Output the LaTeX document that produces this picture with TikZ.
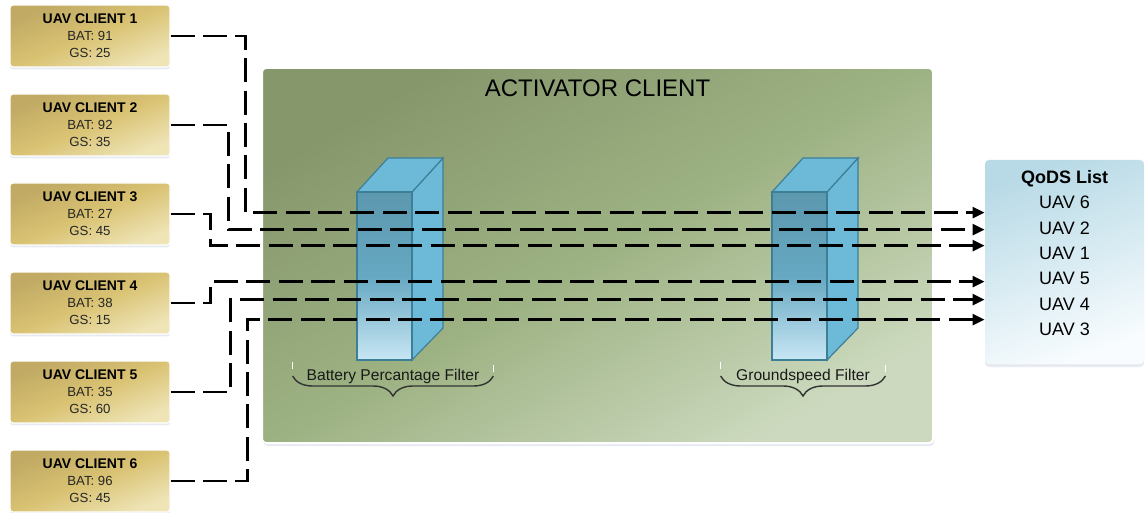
\documentclass[tikz,border=0pt]{standalone}
\usepackage{fontspec}
\setmainfont{Liberation Sans}
\usetikzlibrary{positioning, arrows.meta, shadows, decorations.pathreplacing}

\definecolor{golddark}{RGB}{192,170,100}
\definecolor{goldmid}{RGB}{217,194,114}
\definecolor{goldlight}{RGB}{238,228,182}
\definecolor{actdark}{RGB}{134,151,108}
\definecolor{actmid}{RGB}{157,178,131}
\definecolor{actlight}{RGB}{204,217,190}
\definecolor{filterdark}{RGB}{92,152,174}
\definecolor{filtermid}{RGB}{102,168,194}
\definecolor{filterlight}{RGB}{200,230,244}
\definecolor{filterside}{RGB}{108,186,215}
\definecolor{filteredge}{RGB}{62,127,152}
\definecolor{qodstop}{RGB}{184,218,230}
\definecolor{qodsbottom}{RGB}{248,252,254}
\definecolor{shadowblue}{RGB}{196,204,220}

\begin{document}
\begin{tikzpicture}[
        x=0.5pt, y=-0.5pt,
        client/.style={
            rectangle,
            rounded corners=1.5pt,
            draw=white,
            line width=0.6pt,
            top color=golddark,
            bottom color=goldlight,
            middle color=goldmid,
            shading angle=22,
            minimum width=80pt,
            minimum height=31pt,
            align=center,
            text=black!85,
            font=\fontsize{6.6}{8.5}\selectfont,
            drop shadow={shadow xshift=0pt, shadow yshift=-1.2pt, opacity=0.4, fill=shadowblue}
        },
        activator/.style={
            rectangle,
            rounded corners=2pt,
            draw=white,
            line width=1pt,
            top color=actdark,
            bottom color=actlight,
            middle color=actmid,
            shading angle=30,
            minimum width=335.5pt,
            minimum height=187.5pt,
            drop shadow={shadow xshift=0.6pt, shadow yshift=-1.5pt, opacity=0.4, fill=shadowblue}
        },
        qods/.style={
            rectangle,
            rounded corners=2pt,
            top color=qodstop,
            bottom color=qodsbottom,
            shading angle=20,
            minimum width=79.5pt,
            minimum height=102pt,
            drop shadow={shadow xshift=0pt, shadow yshift=-1.5pt, opacity=0.4, fill=shadowblue}
        },
        filterlabel/.style={
            inner sep=0pt,
            text=black!90,
            font=\fontsize{7.8}{9}\selectfont
        },
        fbrace/.style={
            decorate,
            decoration={brace, mirror, amplitude=10pt},
            draw=black!80,
            line width=0.7pt
        },
        flow/.style={
            -{Triangle[length=6pt, width=5.5pt]},
            line width=1.3pt,
            dash pattern=on 12pt off 4.2pt
        }
    ]
    \useasboundingbox (0,0) rectangle (1145,513);

    % Clients (top to bottom)
    \node[client] (c1) at (90,36) {\textcolor{black}{\bfseries\fontsize{7}{8.5}\selectfont UAV CLIENT 1}\\BAT: 91\\GS: 25};
    \node[client, below=12.9pt of c1] (c2) {\textcolor{black}{\bfseries\fontsize{7}{8.5}\selectfont UAV CLIENT 2}\\BAT: 92\\GS: 35};
    \node[client, below=12.9pt of c2] (c3) {\textcolor{black}{\bfseries\fontsize{7}{8.5}\selectfont UAV CLIENT 3}\\BAT: 27\\GS: 45};
    \node[client, below=12.9pt of c3] (c4) {\textcolor{black}{\bfseries\fontsize{7}{8.5}\selectfont UAV CLIENT 4}\\BAT: 38\\GS: 15};
    \node[client, below=12.9pt of c4] (c5) {\textcolor{black}{\bfseries\fontsize{7}{8.5}\selectfont UAV CLIENT 5}\\BAT: 35\\GS: 60};
    \node[client, below=12.9pt of c5] (c6) {\textcolor{black}{\bfseries\fontsize{7}{8.5}\selectfont UAV CLIENT 6}\\BAT: 96\\GS: 45};

    % Activator client
    \node[activator] (act) at (597.5,255.5) {};
    \node[font=\fontsize{12}{14}\selectfont, inner sep=0pt] (acttitle) at ([yshift=-10.5pt]act.north) {ACTIVATOR CLIENT};

    % Filters
    \foreach \fx in {357, 772} {
        \filldraw[fill=filterside, draw=filteredge, line width=0.6pt]
            (\fx+55,192) -- (\fx+86,158) -- (\fx+86,328) -- (\fx+55,360) -- cycle;
        \filldraw[fill=filterside, draw=filteredge, line width=0.6pt]
            (\fx,192) -- (\fx+31,158) -- (\fx+86,158) -- (\fx+55,192) -- cycle;
        \shadedraw[top color=filterdark, bottom color=filterlight, middle color=filtermid, draw=filteredge, line width=0.6pt]
            (\fx,192) rectangle (\fx+55,360);
    }
    \node[filterlabel, minimum width=100pt] (batlabel) at (393,376) {Battery Percantage Filter};
    \node[filterlabel, minimum width=82pt] (gslabel) at (803,376) {Groundspeed Filter};
    \draw[fbrace] (batlabel.west) -- (batlabel.east);
    \draw[fbrace] (gslabel.west) -- (gslabel.east);
    \draw[white, line width=0.7pt] ([yshift=7pt]batlabel.west) -- ++(0,7);
    \draw[white, line width=0.7pt] ([yshift=5.5pt]batlabel.east) -- ++(0,7);
    \draw[white, line width=0.7pt] ([yshift=7pt]gslabel.west) -- ++(0,7);
    \draw[white, line width=0.7pt] ([yshift=5.5pt]gslabel.east) -- ++(0,7);

    % QoDS list
    \node[qods] (qods) at (1064.5,262) {};
    \node[align=center, inner sep=0pt, font=\fontsize{9}{12.65}\selectfont] (qodslist) at ([yshift=4.5pt]qods.center)
        {\textbf{QoDS List}\\UAV 6\\UAV 2\\UAV 1\\UAV 5\\UAV 4\\UAV 3};
    \foreach \n/\dy in {6/26.5, 2/35, 1/43, 5/61, 4/70, 3/80}
        \coordinate (in\n) at ([yshift=-\dy pt]qods.north west);

    % Arrows
    \draw[flow] (c1.east) -- ++(75,0) |- (in6);
    \draw[flow] (c2.east) -- ++(58,0) |- (in2);
    \draw[flow] (c3.east) -- ++(40,0) |- (in1);
    \draw[flow] (c4.east) -- ++(40,0) |- (in5);
    \draw[flow] (c5.east) -- ++(60,0) |- (in4);
    \draw[flow] (c6.east) -- ++(77,0) |- (in3);

\end{tikzpicture}
\end{document}
